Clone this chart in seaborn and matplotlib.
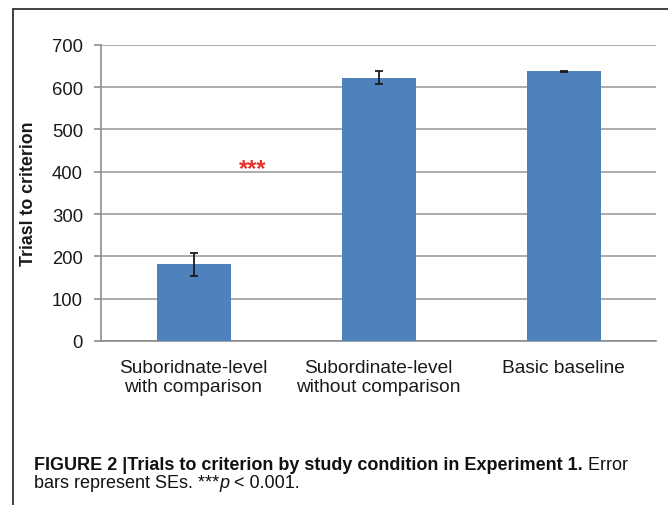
import matplotlib
matplotlib.use("Agg")
import matplotlib.pyplot as plt
from matplotlib.lines import Line2D
import seaborn as sns
import pandas as pd

# Trials to criterion per study condition (means and standard errors)
conditions = ["Suboridnate-level\nwith comparison",
              "Subordinate-level\nwithout comparison",
              "Basic baseline"]
trials_mean = [181, 622, 637]
trials_se = [27, 16, 1]
y_ticks = [0, 100, 200, 300, 400, 500, 600, 700]
sig_label = "***"
sig_pos = (0.32, 408)

df = pd.DataFrame({"condition": conditions, "trials": trials_mean})

sns.set_theme(style="white")
plt.rcParams["font.family"] = ["Liberation Sans", "DejaVu Sans"]

fig = plt.figure(figsize=(6.68, 5.06), dpi=100)
ax = fig.add_axes([101 / 668, 1 - 342 / 506, 555 / 668, (342 - 45.7) / 506])

bar_color = "#4f81bd"
sns.barplot(data=df, x="condition", y="trials", color=bar_color,
            saturation=1, width=0.4, errorbar=None, linewidth=0,
            ax=ax, zorder=3)
ax.errorbar(range(len(conditions)), trials_mean, yerr=trials_se,
            fmt="none", ecolor="#1a1a1a", elinewidth=1.3, capsize=3,
            capthick=1.3, zorder=4)

ax.set_xlim(-0.5, len(conditions) - 0.5)
ax.set_ylim(0, 700)
ax.set_yticks(y_ticks)
ax.yaxis.grid(True, color="#a6a6a6", linewidth=1.3, zorder=0)
ax.set_axisbelow(True)

for side in ("top", "right"):
    ax.spines[side].set_visible(False)
for side in ("left", "bottom"):
    ax.spines[side].set_color("#8c8c8c")
    ax.spines[side].set_linewidth(1.2)

ax.tick_params(axis="y", left=True, length=5, width=1.2, color="#8c8c8c",
               labelsize=13.3, pad=8, labelcolor="#1a1a1a")
ax.tick_params(axis="x", bottom=False, labelsize=13.8, pad=7,
               labelcolor="#1a1a1a")
for lbl in ax.get_xticklabels():
    lbl.set_linespacing(1.15)
ax.set_xlabel("")
ax.set_ylabel("Triasl to criterion", fontsize=12.8, fontweight="bold",
              color="#1a1a1a")
ax.yaxis.set_label_coords(-0.115, 0.5)

ax.text(*sig_pos, sig_label, color="#e8312f", fontsize=17, fontweight="bold",
        ha="center", va="center")

# page frame lines (top and left)
fig.add_artist(Line2D([13 / 668, 1.0], [1 - 10 / 506, 1 - 10 / 506],
                      transform=fig.transFigure, color="#333333", lw=1.3))
fig.add_artist(Line2D([13 / 668, 13 / 668], [1 - 10 / 506, 0.0],
                      transform=fig.transFigure, color="#333333", lw=1.3))

# caption
cap_font = ["Liberation Sans Narrow", "Liberation Sans", "DejaVu Sans"]
cap_size = 13
t1 = fig.text(34 / 668, 1 - 470 / 506,
              "FIGURE 2 |Trials to criterion by study condition in Experiment 1.",
              fontsize=cap_size, fontweight="bold", family=cap_font,
              color="#111111", va="baseline")
ax.annotate(" Error", xy=(1, 0), xycoords=t1, va="bottom", ha="left",
            fontsize=cap_size, family=cap_font, color="#111111",
            annotation_clip=False)
t2 = fig.text(34 / 668, 1 - 488 / 506, "bars represent SEs. ***",
              fontsize=cap_size, family=cap_font, color="#111111",
              va="baseline")
t3 = ax.annotate("p", xy=(1, 0), xycoords=t2, va="bottom", ha="left",
                 fontsize=cap_size, family=cap_font, style="italic",
                 color="#111111", annotation_clip=False)
ax.annotate(" < 0.001.", xy=(1, 0), xycoords=t3, va="bottom", ha="left",
            fontsize=cap_size, family=cap_font, color="#111111",
            annotation_clip=False)

fig.savefig("out.png", dpi=100)
